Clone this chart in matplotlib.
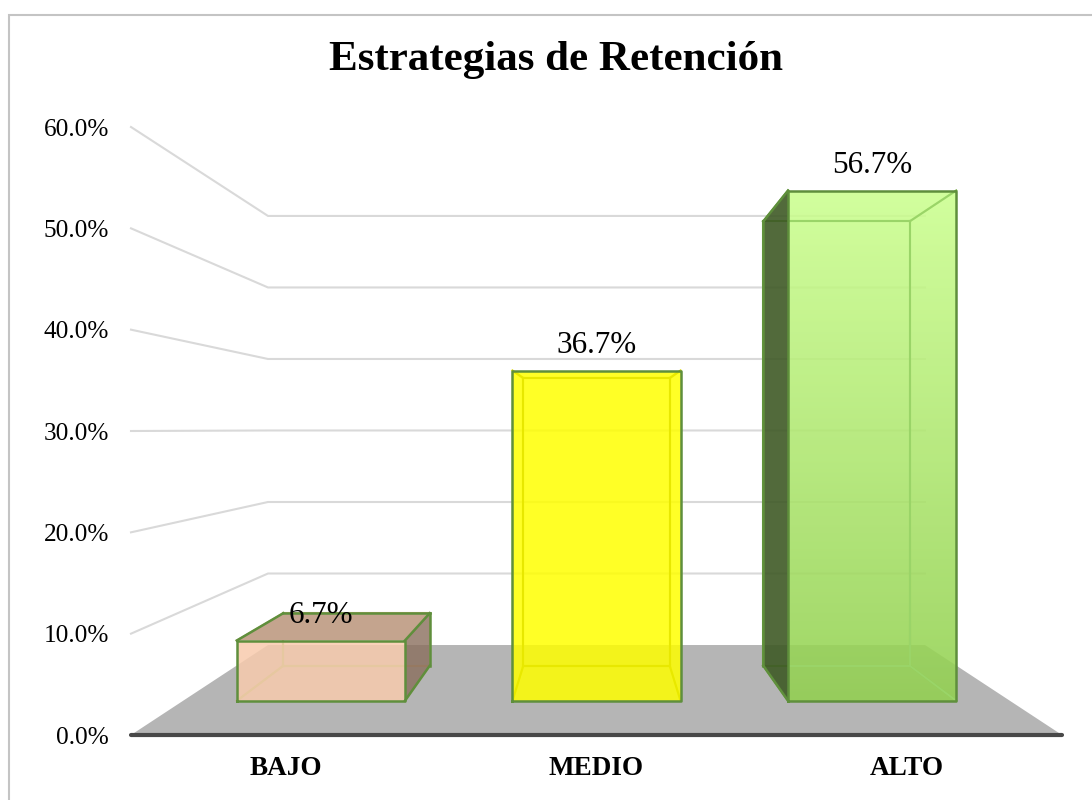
import matplotlib
matplotlib.use('Agg')
import matplotlib.pyplot as plt
import numpy as np
from matplotlib.colors import LinearSegmentedColormap
from matplotlib.lines import Line2D
from matplotlib.patches import Polygon, Rectangle

categories = ['BAJO', 'MEDIO', 'ALTO']
percent = [6.7, 36.7, 56.7]
y_ticks = [0, 10, 20, 30, 40, 50, 60]

plt.rcParams['font.family'] = ['Liberation Serif', 'DejaVu Serif']

W, H = 1092, 800
# fake 3D: depth goes 0 (front of floor) to 1 (back wall)
SHRINK = 0.2943
LIFT = 8.88
BAR_W = 0.61
Z_FRONT, Z_BACK = 0.38, 0.77


def project(x, v, z):
    s = 1 - SHRINK * z
    return 1.5 + (x - 1.5) * s, LIFT * z + v * s


fig = plt.figure(figsize=(W / 100, H / 100), dpi=100)
# chart frame only shows on the top and left of the image
fig.add_artist(Line2D([9 / W, 9 / W, 1], [0, 1 - 15 / H, 1 - 15 / H], transform=fig.transFigure,
                      color='#C4C4C4', lw=1.5, solid_joinstyle='miter'))
ax = fig.add_axes([131 / W, 1 - 735 / H, 931 / W, 608 / H])
ax.patch.set_alpha(0)
ax.set_xlim(0, 3)
ax.set_ylim(0, 60)
for s in ax.spines.values():
    s.set_visible(False)

# floor
corners = [project(0, 0, 0), project(3, 0, 0), project(3, 0, 1), project(0, 0, 1)]
ax.add_patch(Polygon(corners, closed=True, facecolor='#B5B5B5', edgecolor='none', zorder=1))

# wall gridlines
for t in y_ticks[1:]:
    pts = [project(0, t, 0), project(0, t, 1), project(3, t, 1)]
    ax.plot([p[0] for p in pts], [p[1] for p in pts], color='#D9D9D9', lw=1.5, zorder=1.5,
            solid_joinstyle='miter', clip_on=False)
ax.plot([0, 3], [0, 0], color='#484848', lw=3, zorder=6, solid_capstyle='round', clip_on=False)

face_colors = ['#F8CBAD', '#FFFF00', None]
dark_sides = ['#8A6E5C', '#C8C800', '#3F5A26']
edge_colors = ['#5F8F3C', '#5F8F3C', '#5F8F3C']
inner_edges = ['#C8A878', '#D8D400', '#6FA83C']
front_edges = ['#E6C8A0', '#E8E800', '#9AD468']
green_cmap = LinearSegmentedColormap.from_list('alto', ['#CCFF90', '#92D050'])


def poly(i, pts, **kw):
    ax.add_patch(Polygon(pts, closed=True, edgecolor='none', clip_on=False, **kw))


for i, (cat, val) in enumerate(zip(categories, percent)):
    x0, x1 = i + 0.5 - BAR_W / 2, i + 0.5 + BAR_W / 2
    fbl, fbr = project(x0, 0, Z_FRONT), project(x1, 0, Z_FRONT)
    ftl, ftr = project(x0, val, Z_FRONT), project(x1, val, Z_FRONT)
    bbl, bbr = project(x0, 0, Z_BACK), project(x1, 0, Z_BACK)
    btl, btr = project(x0, val, Z_BACK), project(x1, val, Z_BACK)
    base = '#A8E070' if face_colors[i] is None else face_colors[i]
    hidden = [(bbl, bbr), (bbr, btr), (btr, btl), (btl, bbl), (fbl, bbl), (fbr, bbr), (ftr, btr), (ftl, btl)]

    for a, b in hidden:
        ax.plot([a[0], b[0]], [a[1], b[1]], color=inner_edges[i], lw=1.5, zorder=1.8, clip_on=False)

    # side faces, darker where they face the viewer from outside the front face
    if bbl[0] < fbl[0]:
        poly(i, [fbl, ftl, btl, bbl], facecolor=dark_sides[i], alpha=0.9, zorder=2)
    if bbr[0] > fbr[0]:
        poly(i, [fbr, ftr, btr, bbr], facecolor=dark_sides[i], alpha=0.8, zorder=2)
    if btl[1] > ftl[1]:
        poly(i, [ftl, ftr, btr, btl], facecolor='#C4A48E', zorder=2)

    # front face
    front_rect = Rectangle(fbl, fbr[0] - fbl[0], ftl[1] - fbl[1], transform=ax.transData)
    if face_colors[i] is None:
        im = ax.imshow(np.linspace(0, 1, 256).reshape(-1, 1), cmap=green_cmap, aspect='auto',
                       extent=(fbl[0], fbr[0], fbl[1], ftl[1]), origin='upper', alpha=0.88, zorder=3)
        im.set_clip_path(front_rect)
    else:
        poly(i, [fbl, fbr, ftr, ftl], facecolor=base, alpha=0.85, zorder=3)

    # faint back edges showing through the front face
    for a, b in hidden:
        ln, = ax.plot([a[0], b[0]], [a[1], b[1]], color=front_edges[i], lw=1.5, zorder=3.2)
        ln.set_clip_path(front_rect)

    # outer outline
    ax.plot([fbl[0], fbr[0], ftr[0], ftl[0], fbl[0]], [fbl[1], fbr[1], ftr[1], ftl[1], fbl[1]],
            color=edge_colors[i], lw=1.8, zorder=4)
    outer = [(ftl, btl), (btl, bbl), (bbl, fbl)] if bbl[0] < fbl[0] else []
    if bbr[0] > fbr[0]:
        outer = [(ftl, btl), (btl, btr), (btr, ftr), (btr, bbr), (bbr, fbr)]
    for a, b in outer:
        ax.plot([a[0], b[0]], [a[1], b[1]], color=edge_colors[i], lw=1.8, zorder=4)

    cx = (ftl[0] + ftr[0]) / 2
    ax.annotate(f'{val:.1f}%', xy=(cx, ftl[1]), xytext=(0, 18), textcoords='offset points',
                ha='center', va='center', fontsize=22.4, color='black', zorder=7)

ax.set_yticks(y_ticks)
ax.set_yticklabels([f'{t:.1f}%' for t in y_ticks], fontsize=18.2, color='black')
ax.set_xticks([0.5, 1.5, 2.5])
ax.set_xticklabels(categories, fontsize=19.5, fontweight='bold', color='black')
ax.tick_params(axis='y', length=0, pad=16)
ax.tick_params(axis='x', length=0, pad=15)
ax.set_zorder(2)

fig.text(556 / W, 1 - 60 / H, 'Estrategias de Retención', ha='center', va='center',
         fontsize=31, fontweight='bold', color='black')

fig.savefig('out.png', dpi=100)
